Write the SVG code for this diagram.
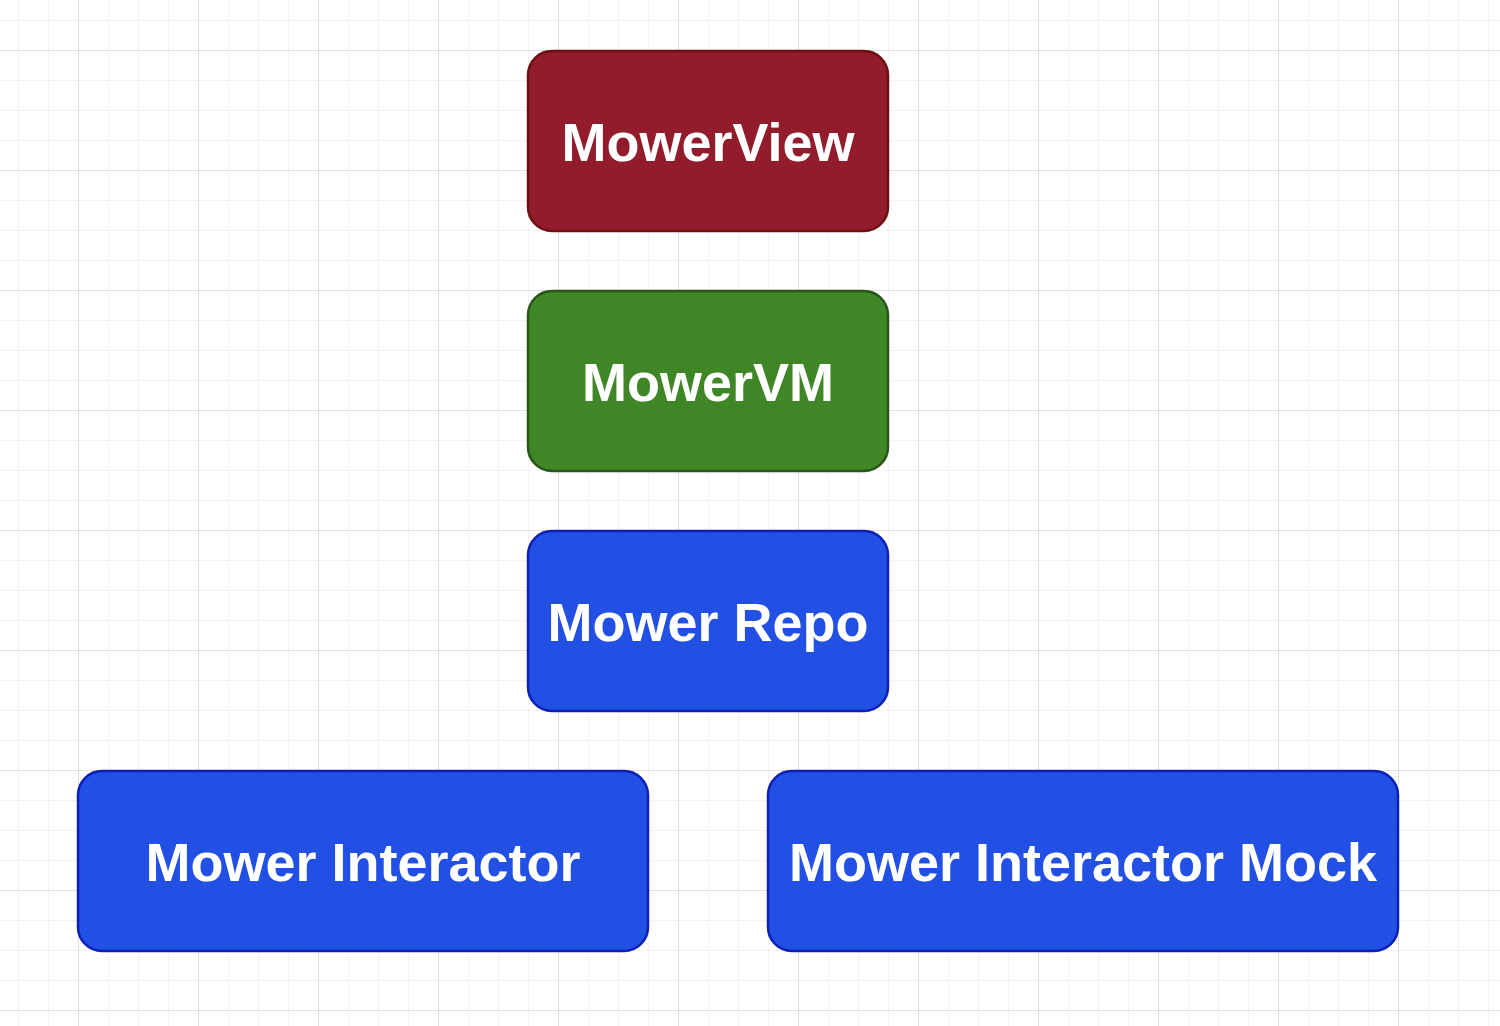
<svg xmlns="http://www.w3.org/2000/svg" width="1500" height="1026" viewBox="0 0 1500 1026">
<defs>
<pattern id="minor" x="18" y="20" width="30" height="30" patternUnits="userSpaceOnUse">
<path d="M0 0H30M0 0V30" fill="none" stroke="#f0f0f0" stroke-width="1.5"/>
</pattern>
<pattern id="major" x="78" y="50" width="120" height="120" patternUnits="userSpaceOnUse">
<path d="M0 0H120M0 0V120" fill="none" stroke="#cfcfcf" stroke-width="1.2"/>
</pattern>
</defs>
<style>
.lbl{font-family:"Liberation Sans",Arial,Helvetica,sans-serif;font-weight:bold;font-size:54px;fill:#ffffff;text-anchor:middle}
.red{fill:#921c2b;stroke:#6c1010;stroke-width:2.5}
.green{fill:#3e8626;stroke:#28561a;stroke-width:2.5}
.blue{fill:#2250e5;stroke:#0c20b8;stroke-width:2.5}
</style>
<rect width="1500" height="1026" fill="#ffffff"/>
<rect width="1500" height="1026" fill="url(#minor)"/>
<rect width="1500" height="1026" fill="url(#major)"/>
<g id="connectors"></g>
<g id="mowerview">
<rect class="red" x="528" y="51" width="360" height="180" rx="24"/>
<text class="lbl" x="708" y="161">MowerView</text>
</g>
<g id="mowervm">
<rect class="green" x="528" y="291" width="360" height="180" rx="24"/>
<text class="lbl" x="708" y="401">MowerVM</text>
</g>
<g id="mowerrepo">
<rect class="blue" x="528" y="531" width="360" height="180" rx="24"/>
<text class="lbl" x="708" y="641">Mower Repo</text>
</g>
<g id="mowerinteractor">
<rect class="blue" x="78" y="771" width="570" height="180" rx="24"/>
<text class="lbl" x="363" y="881">Mower Interactor</text>
</g>
<g id="mowerinteractormock">
<rect class="blue" x="768" y="771" width="630" height="180" rx="24"/>
<text class="lbl" x="1083" y="881">Mower Interactor Mock</text>
</g>
</svg>
